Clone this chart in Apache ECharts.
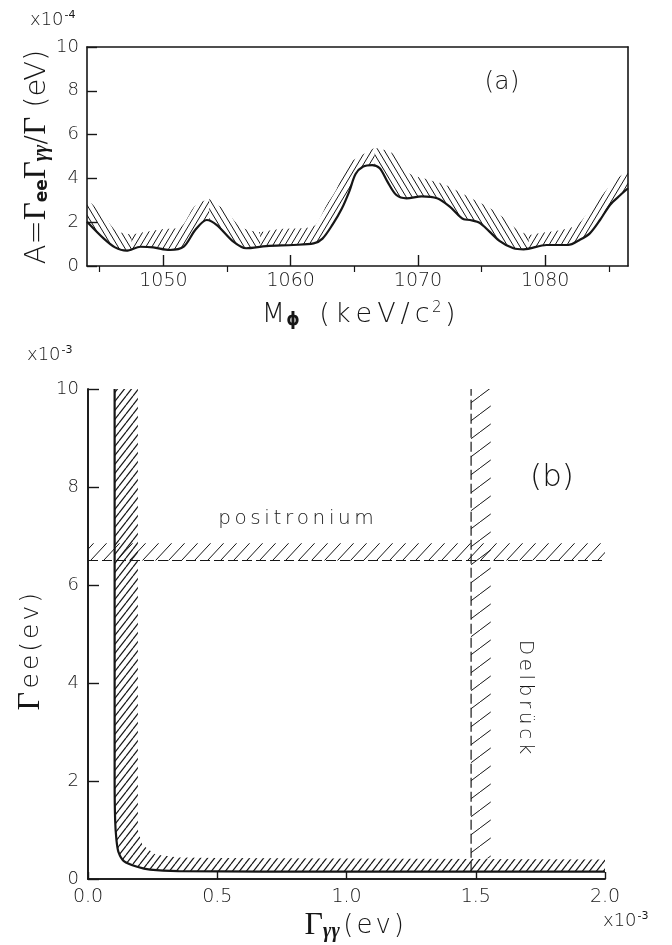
<!DOCTYPE html>
<html><head><meta charset="utf-8">
<script src="https://cdn.jsdelivr.net/npm/echarts@6/dist/echarts.min.js"></script>
<style>html,body{margin:0;padding:0;background:#fff}#c{width:672px;height:945px}</style>
</head><body><div id="c"></div>
<script>
// ---------- Panel (a) data ----------
const massLowerA = [1044.0,1045.3,1046.2,1047.1,1048.2,1049.2,1050.5,1051.6,1052.5,1053.4,1054.2,1055.5,1056.5,1058.1,1060.2,1061.8,1062.5,1063.3,1064.0,1064.6,1065.1,1065.7,1066.4,1067.0,1067.6,1068.3,1069.1,1070.3,1071.5,1072.5,1073.6,1074.1,1074.9,1076.4,1077.5,1078.3,1080.1,1081.8,1082.7,1083.5,1084.3,1085.1,1085.9,1086.5];
const lowerA = [2.02,1.26,0.85,0.70,0.88,0.85,0.73,0.88,1.64,2.10,1.87,1.11,0.81,0.91,0.96,1.03,1.25,1.90,2.60,3.40,4.20,4.54,4.61,4.46,3.85,3.24,3.09,3.18,3.09,2.71,2.13,2.10,1.95,1.15,0.81,0.76,0.96,0.96,1.19,1.49,2.10,2.80,3.24,3.55];
const massUpperA = [1044.0,1045.3,1046.3,1047.5,1049.0,1050.0,1051.3,1052.5,1053.6,1055.0,1056.1,1057.6,1059.2,1061.3,1062.0,1062.8,1063.6,1064.4,1065.4,1066.6,1068.0,1069.3,1070.9,1072.2,1073.5,1075.0,1076.3,1077.6,1078.7,1079.5,1081.2,1082.5,1083.3,1084.3,1085.3,1086.5];
const upperA = [3.07,2.30,1.61,1.44,1.60,1.69,1.76,2.76,3.07,2.46,1.77,1.54,1.69,1.75,1.90,2.76,3.50,4.60,5.00,5.40,5.15,4.23,3.93,3.70,3.30,2.85,2.40,1.75,1.40,1.49,1.64,1.87,2.40,3.10,3.80,4.40];
const xMajorTicksA = [1050,1060,1070,1080];
const xMinorTicksA = [1045,1055,1065,1075,1085];

// ---------- Panel (b) data ----------
const ggCurveB = [0.103,0.103,0.105,0.110,0.118,0.140,0.190,0.240,0.350,1.000,2.000];
const eeCurveB = [10,2.0,1.2,0.80,0.55,0.36,0.25,0.19,0.16,0.15,0.15];
const ggBandB = [0.193,0.193,0.210,0.260,0.350,0.500,2.000];
const eeBandB = [10,1.0,0.70,0.50,0.44,0.43,0.40];
const positroniumB = [6.5, 6.85];
const delbruckB = [1.482, 1.558];
const delbruckBottomB = 0.42;

// ---------- styling helpers ----------
const INK = '#161616';
const FONT = '"DejaVu Sans", sans-serif';
function hatch(dir, w, h, lw) {
  const c = document.createElement('canvas'); c.width = w; c.height = h;
  const g = c.getContext('2d'); g.strokeStyle = INK; g.lineWidth = lw;
  for (let k = -1; k <= 1; k++) {
    g.beginPath();
    if (dir === '/') { g.moveTo(k * w, h); g.lineTo(k * w + w, 0); }
    else { g.moveTo(k * w, 0); g.lineTo(k * w + w, h); }
    g.stroke();
  }
  return { image: c, repeat: 'repeat' };
}
const hatchSegA = [
  { from: 1044, to: 1047.5, dir: '\\' }, { from: 1047.5, to: 1053.6, dir: '/' },
  { from: 1053.6, to: 1057.6, dir: '\\' }, { from: 1057.6, to: 1066.6, dir: '/' },
  { from: 1066.6, to: 1078.7, dir: '\\' }, { from: 1078.7, to: 1086.5, dir: '/' }
];
const patA = { '/': hatch('/', 6, 10, 1), '\\': hatch('\\', 6, 10, 1) };
const patL = hatch('/', 7, 9, 1.2);
const patPos = hatch('/', 13, 14, 1);
const patDel = hatch('/', 24, 18, 1);

const upperPts = massUpperA.map((m, i) => [m, upperA[i]]);
const lowerPts = massLowerA.map((m, i) => [m, lowerA[i]]);

const series = [];
hatchSegA.forEach(s => {
  series.push({ type: 'line', xAxisIndex: 0, yAxisIndex: 0, silent: true, z: 1,
    data: upperPts.filter(p => p[0] >= s.from && p[0] <= s.to),
    smooth: 0.3, showSymbol: false, symbol: 'none',
    lineStyle: { width: 0, opacity: 0 }, areaStyle: { color: patA[s.dir], opacity: 1 } });
});
series.push({ type: 'line', xAxisIndex: 0, yAxisIndex: 0, silent: true, z: 3,
  data: lowerPts, smooth: 0.3, symbol: 'none',
  lineStyle: { color: INK, width: 2.2 }, areaStyle: { color: '#fff', opacity: 1 } });

function polySeries(points, pattern) {
  return { type: 'custom', xAxisIndex: 3, yAxisIndex: 2, data: [0], silent: true, z: 1, clip: true,
    renderItem: (params, api) => ({ type: 'polygon',
      shape: { points: points.map(p => api.coord(p)) }, style: { fill: pattern, stroke: null } }) };
}
const curvePts = ggCurveB.map((x, i) => [x, eeCurveB[i]]);
const bandPts = ggBandB.map((x, i) => [x, eeBandB[i]]).reverse();
series.push(polySeries(curvePts.concat(bandPts), patL));
series.push(polySeries([[0, positroniumB[0]], [2, positroniumB[0]], [2, positroniumB[1]], [0, positroniumB[1]]], patPos));
series.push(polySeries([[delbruckB[0], delbruckBottomB], [delbruckB[1], delbruckBottomB], [delbruckB[1], 10], [delbruckB[0], 10]], patDel));
series.push({ type: 'line', xAxisIndex: 3, yAxisIndex: 2, silent: true, z: 3, data: curvePts,
  smooth: 0.25, symbol: 'none', lineStyle: { color: INK, width: 2.2 } });
series.push({ type: 'line', xAxisIndex: 3, yAxisIndex: 2, silent: true, z: 3,
  data: [[0, positroniumB[0]], [2, positroniumB[0]]], symbol: 'none',
  lineStyle: { color: INK, width: 1.2, type: [10, 4] } });
series.push({ type: 'line', xAxisIndex: 3, yAxisIndex: 2, silent: true, z: 3,
  data: [[delbruckB[0], eeCurveB[eeCurveB.length - 1]], [delbruckB[0], 10]], symbol: 'none',
  lineStyle: { color: INK, width: 1.2, type: [10, 4] } });

const axLine = { show: true, lineStyle: { color: INK, width: 1.6 } };
const lbl = (fs, m) => ({ color: INK, fontSize: fs, fontFamily: FONT, fontWeight: 200, margin: m });
const frameX = (g) => ({ gridIndex: g, type: 'value', position: 'top', z: 10, axisLine: axLine,
  axisTick: { show: false }, axisLabel: { show: false }, splitLine: { show: false },
  min: g === 0 ? 1044 : 0, max: g === 0 ? 1086.5 : 2 });
const frameY = (g) => ({ gridIndex: g, type: 'value', position: 'right', z: 10, axisLine: axLine,
  axisTick: { show: false }, axisLabel: { show: false }, splitLine: { show: false }, min: 0, max: 10 });

const sp = (str, st) => Array.from(str).map(ch => '{' + st + '|' + ch + '}').join('');

const option = {
  animation: false,
  backgroundColor: '#fff',
  grid: [
    { left: 87, top: 47, width: 541, height: 219 },
    { left: 88, top: 389, width: 517, height: 490 }
  ],
  xAxis: [
    { gridIndex: 0, type: 'value', min: 1044, max: 1086.5, z: 10, axisLine: axLine,
      axisTick: { inside: true, length: 11, lineStyle: { color: INK, width: 1.4 }, customValues: xMajorTicksA },
      axisLabel: Object.assign(lbl(19, 6), { customValues: xMajorTicksA, formatter: v => String(v) }), splitLine: { show: false } },
    { gridIndex: 0, type: 'value', min: 1044, max: 1086.5, z: 10, axisLine: { show: false },
      axisTick: { inside: true, length: 6, lineStyle: { color: INK, width: 1.2 }, customValues: xMinorTicksA },
      axisLabel: { show: false }, splitLine: { show: false } },
    frameX(0),
    { gridIndex: 1, type: 'value', min: 0, max: 2, interval: 0.5, z: 10, axisLine: axLine,
      axisTick: { inside: true, length: 7, lineStyle: { color: INK, width: 1.4 } },
      axisLabel: Object.assign(lbl(19, 9), { formatter: v => v.toFixed(1) }), splitLine: { show: false } },
    frameX(1)
  ],
  yAxis: [
    { gridIndex: 0, type: 'value', min: 0, max: 10, interval: 2, z: 10, axisLine: axLine,
      axisTick: { inside: true, length: 10, lineStyle: { color: INK, width: 1.4 } },
      axisLabel: lbl(18, 8), splitLine: { show: false } },
    frameY(0),
    { gridIndex: 1, type: 'value', min: 0, max: 10, interval: 2, z: 10, axisLine: axLine,
      axisTick: { inside: true, length: 11, lineStyle: { color: INK, width: 1.4 } },
      axisLabel: lbl(18, 9), splitLine: { show: false } },
    frameY(1)
  ],
  series: series,
  graphic: [
    { type: 'text', x: 30, y: 20, style: { text: '{a|x10}{b|-4}', fill: INK, verticalAlign: 'middle',
      rich: { a: { fontSize: 18, fontFamily: FONT, fontWeight: 200 }, b: { fontSize: 11, fontFamily: FONT, padding: [0, 0, 10, 1] } } } },
    { type: 'text', x: 37, y: 157, rotation: Math.PI / 2, style: {
      text: '{a|A=}{G|Γ}{s|ee}{G|Γ}{g|γγ}{a|/}{G|Γ}{a| (eV)}', fill: INK, align: 'center', verticalAlign: 'middle',
      rich: { a: { fontSize: 29, fontFamily: FONT, fontWeight: 200 },
              G: { fontSize: 31, fontFamily: '"Liberation Serif", serif' },
              s: { fontSize: 17, fontFamily: FONT, fontWeight: 'bold', padding: [12, 0, 0, 0] },
              g: { fontSize: 20, fontFamily: '"Liberation Serif", serif', fontWeight: 'bold', fontStyle: 'italic', padding: [10, 0, 0, 0] } } } },
    { type: 'text', x: 360, y: 315, style: {
      text: '{a|M}{s|ϕ}{a|  }' + sp('(keV/c', 'b') + '{u|2}{b|)}', fill: INK, align: 'center', verticalAlign: 'middle',
      rich: { a: { fontSize: 27, fontFamily: FONT, fontWeight: 200 },
              b: { fontSize: 27, fontFamily: FONT, fontWeight: 200, padding: [0, 2.5] },
              s: { fontSize: 17, fontFamily: FONT, fontWeight: 'bold', padding: [12, 0, 0, 1] },
              u: { fontSize: 15, fontFamily: FONT, fontWeight: 200, padding: [0, 1, 14, 0] } } } },
    { type: 'text', x: 502, y: 82, style: { text: '(a)', fill: INK, align: 'center', verticalAlign: 'middle',
      fontSize: 25, fontFamily: FONT, fontWeight: 200 } },
    { type: 'text', x: 27, y: 355, style: { text: '{a|x10}{b|-3}', fill: INK, verticalAlign: 'middle',
      rich: { a: { fontSize: 18, fontFamily: FONT, fontWeight: 200 }, b: { fontSize: 11, fontFamily: FONT, padding: [0, 0, 10, 1] } } } },
    { type: 'text', x: 552, y: 478, style: { text: '(b)', fill: INK, align: 'center', verticalAlign: 'middle',
      fontSize: 31, fontFamily: FONT, fontWeight: 200 } },
    { type: 'text', x: 296, y: 519, style: { text: sp('positronium', 'c'), fill: INK, align: 'center', verticalAlign: 'middle',
      rich: { c: { fontSize: 20, fontFamily: FONT, fontWeight: 200, padding: [0, 1.8] } } } },
    { type: 'text', x: 525, y: 697, rotation: -Math.PI / 2, style: { text: sp('Delbrück', 'c'), fill: INK, align: 'center', verticalAlign: 'middle',
      rich: { c: { fontSize: 20, fontFamily: FONT, fontWeight: 200, padding: [0, 1.8] } } } },
    { type: 'text', x: 31, y: 651, rotation: Math.PI / 2, style: {
      text: '{G|Γ}' + sp('ee(ev)', 'c'), fill: INK, align: 'center', verticalAlign: 'middle',
      rich: { G: { fontSize: 32, fontFamily: '"Liberation Serif", serif', padding: [0, 2, 0, 0] },
              c: { fontSize: 25, fontFamily: FONT, fontWeight: 200, padding: [0, 1.5] } } } },
    { type: 'text', x: 355, y: 926, style: {
      text: '{G|Γ}{g|γγ}' + sp('(ev)', 'c'), fill: INK, align: 'center', verticalAlign: 'middle',
      rich: { G: { fontSize: 32, fontFamily: '"Liberation Serif", serif' },
              g: { fontSize: 20, fontFamily: '"Liberation Serif", serif', fontWeight: 'bold', fontStyle: 'italic', padding: [12, 2, 0, 0] },
              c: { fontSize: 26, fontFamily: FONT, fontWeight: 200, padding: [0, 1.5] } } } },
    { type: 'text', x: 603, y: 921, style: { text: '{a|x10}{b|-3}', fill: INK, verticalAlign: 'middle',
      rich: { a: { fontSize: 18, fontFamily: FONT, fontWeight: 200 }, b: { fontSize: 11, fontFamily: FONT, padding: [0, 0, 10, 1] } } } }
  ]
};
const chart = echarts.init(document.getElementById('c'), null, { renderer: 'canvas' });
chart.setOption(option);
</script>
</body></html>
